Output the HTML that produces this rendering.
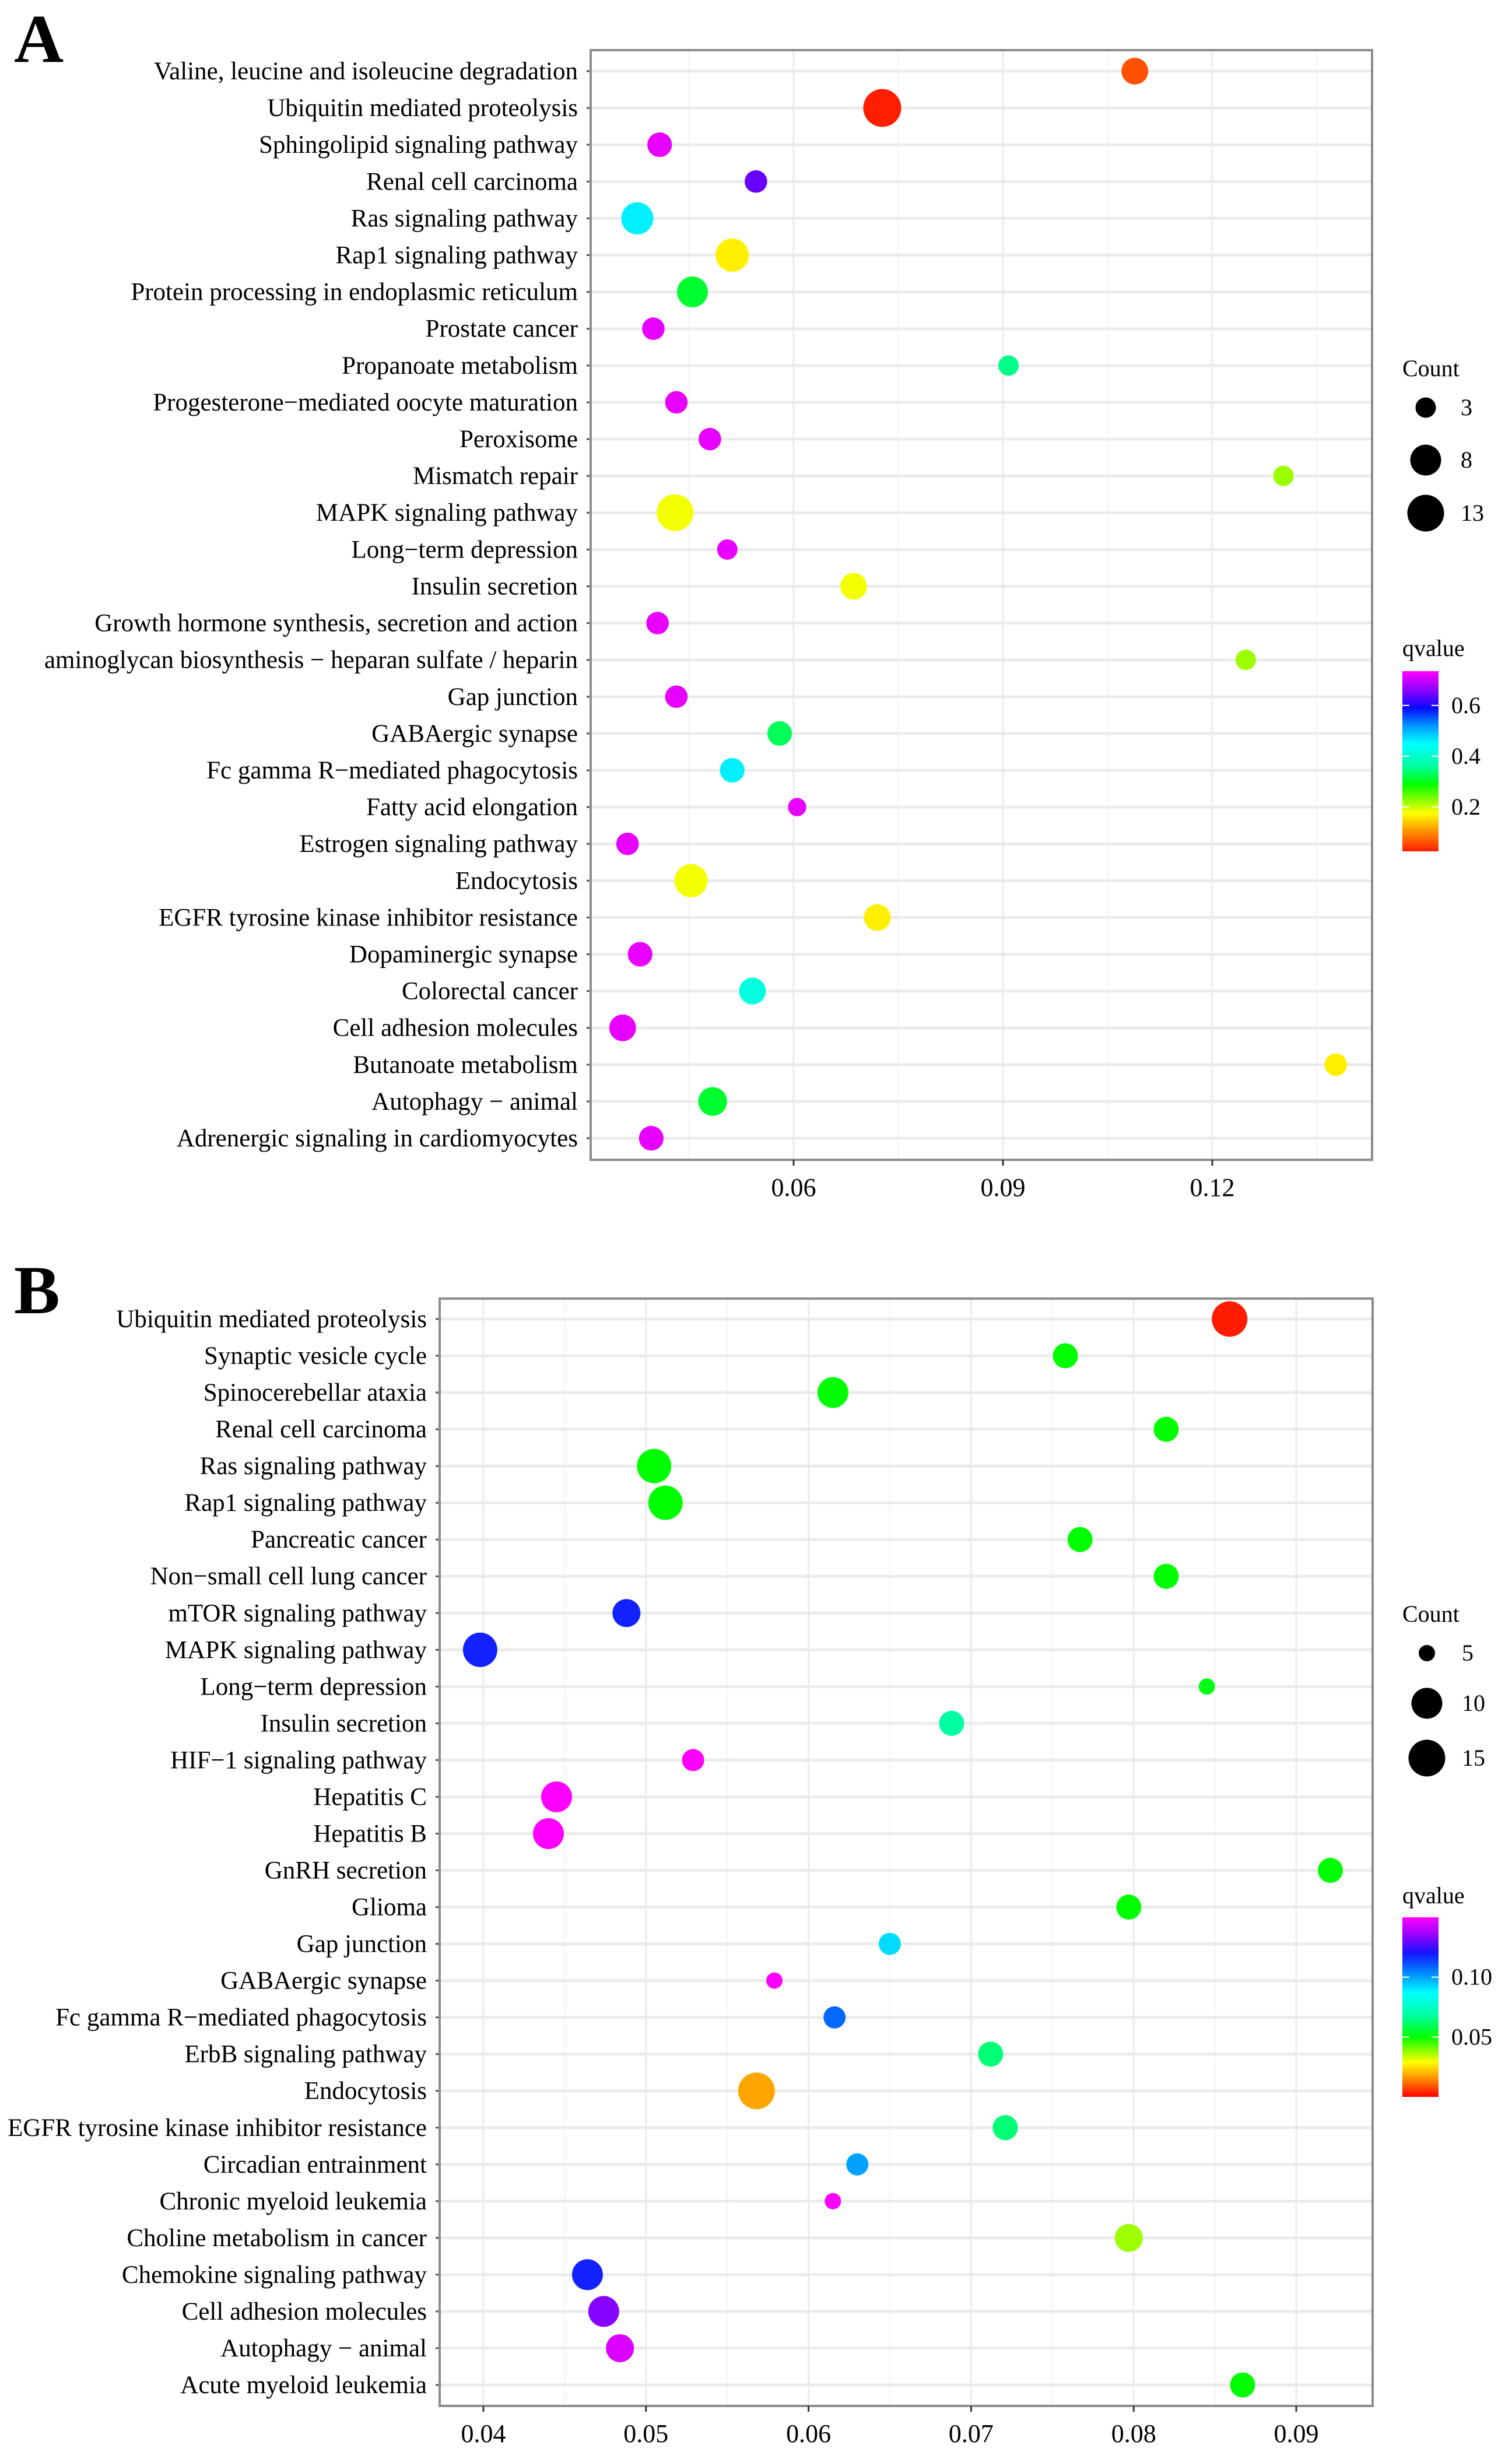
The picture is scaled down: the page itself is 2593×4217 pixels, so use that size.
<!DOCTYPE html>
<html><head><meta charset="utf-8">
<style>
html,body{margin:0;padding:0;background:#fff;}
svg{display:block;}
text{font-family:"Liberation Serif","DejaVu Serif",serif;fill:#000;}
</style></head>
<body>
<svg id="chart" width="2593" height="4217" viewBox="0 0 2593 4217" xmlns="http://www.w3.org/2000/svg">
<rect x="0" y="0" width="2593" height="4217" fill="#fff"/>
</svg>
<script>
// ---- Panel A data ----
const catsA = ["Valine, leucine and isoleucine degradation","Ubiquitin mediated proteolysis","Sphingolipid signaling pathway","Renal cell carcinoma","Ras signaling pathway","Rap1 signaling pathway","Protein processing in endoplasmic reticulum","Prostate cancer","Propanoate metabolism","Progesterone\u2212mediated oocyte maturation","Peroxisome","Mismatch repair","MAPK signaling pathway","Long\u2212term depression","Insulin secretion","Growth hormone synthesis, secretion and action","aminoglycan biosynthesis \u2212 heparan sulfate / heparin","Gap junction","GABAergic synapse","Fc gamma R\u2212mediated phagocytosis","Fatty acid elongation","Estrogen signaling pathway","Endocytosis","EGFR tyrosine kinase inhibitor resistance","Dopaminergic synapse","Colorectal cancer","Cell adhesion molecules","Butanoate metabolism","Autophagy \u2212 animal","Adrenergic signaling in cardiomyocytes"];
const ratioA = [0.1089,0.0727,0.0408,0.0546,0.0376,0.0512,0.0455,0.0399,0.0908,0.0432,0.0480,0.1302,0.0430,0.0505,0.0686,0.0405,0.1248,0.0432,0.0580,0.0512,0.0605,0.0362,0.0453,0.0720,0.0380,0.0541,0.0355,0.1377,0.0484,0.0396];
const countA = [6,14,5,4,9,10,8,4,3,4,4,3,13,3,6,4,3,4,5,5,2,4,10,6,5,6,6,4,7,5];
const qA = [0.06,0.025,0.72,0.64,0.46,0.165,0.31,0.72,0.35,0.72,0.72,0.22,0.18,0.72,0.18,0.72,0.22,0.72,0.33,0.46,0.72,0.72,0.18,0.165,0.72,0.42,0.72,0.165,0.31,0.72];
const ticksA = [0.06,0.09,0.12];
const tickLabelsA = ["0.06","0.09","0.12"];
const sizeBreaksA = [3,8,13];
const qBreaksA = [0.2,0.4,0.6];
const qLabelsA = ["0.2","0.4","0.6"];

// ---- Panel B data ----
const catsB = ["Ubiquitin mediated proteolysis","Synaptic vesicle cycle","Spinocerebellar ataxia","Renal cell carcinoma","Ras signaling pathway","Rap1 signaling pathway","Pancreatic cancer","Non\u2212small cell lung cancer","mTOR signaling pathway","MAPK signaling pathway","Long\u2212term depression","Insulin secretion","HIF\u22121 signaling pathway","Hepatitis C","Hepatitis B","GnRH secretion","Glioma","Gap junction","GABAergic synapse","Fc gamma R\u2212mediated phagocytosis","ErbB signaling pathway","Endocytosis","EGFR tyrosine kinase inhibitor resistance","Circadian entrainment","Chronic myeloid leukemia","Choline metabolism in cancer","Chemokine signaling pathway","Cell adhesion molecules","Autophagy \u2212 animal","Acute myeloid leukemia"];
const ratioB = [0.0859,0.0758,0.0615,0.0820,0.0505,0.0512,0.0767,0.0820,0.0488,0.0398,0.0845,0.0688,0.0529,0.0445,0.0440,0.0921,0.0797,0.0650,0.0579,0.0616,0.0712,0.0568,0.0721,0.0630,0.0615,0.0797,0.0464,0.0474,0.0484,0.0867];
const countB = [14,8,10,8,13,13,8,8,9,13,5,8,7,10,10,8,8,7,5,7,8,15,8,7,5,9,10,10,9,8];
const qB = [0.003,0.05,0.05,0.05,0.05,0.05,0.05,0.05,0.118,0.118,0.052,0.068,0.15,0.15,0.15,0.05,0.05,0.092,0.15,0.108,0.063,0.018,0.063,0.1,0.15,0.037,0.118,0.133,0.145,0.05];
const ticksB = [0.04,0.05,0.06,0.07,0.08,0.09];
const tickLabelsB = ["0.04","0.05","0.06","0.07","0.08","0.09"];
const sizeBreaksB = [5,10,15];
const qBreaksB = [0.05,0.10];
const qLabelsB = ["0.05","0.10"];

const NS = "http://www.w3.org/2000/svg";
const svg = document.getElementById('chart');
function mk(tag, attrs, parent){
  const e = document.createElementNS(NS, tag);
  for (const k in attrs) e.setAttribute(k, attrs[k]);
  (parent||svg).appendChild(e);
  return e;
}
function lerp(a,b,t){return a+(b-a)*t;}
function interp(xs, ys, v){
  if (v<=xs[0]) return ys[0]+(v-xs[0])*(ys[1]-ys[0])/(xs[1]-xs[0]);
  for(let i=0;i<xs.length-1;i++){ if(v<=xs[i+1]) return lerp(ys[i],ys[i+1],(v-xs[i])/(xs[i+1]-xs[i])); }
  const n=xs.length; return ys[n-1]+(v-xs[n-1])*(ys[n-1]-ys[n-2])/(xs[n-1]-xs[n-2]);
}
function colorFn(stops){
  return function(q){
    if(q<=stops[0][0]) return 'rgb('+stops[0][1].join(',')+')';
    for(let i=0;i<stops.length-1;i++){
      if(q<=stops[i+1][0]){
        const t=(q-stops[i][0])/(stops[i+1][0]-stops[i][0]);
        const c=stops[i][1].map((v,j)=>Math.round(lerp(v,stops[i+1][1][j],t)));
        return 'rgb('+c.join(',')+')';
      }
    }
    return 'rgb('+stops[stops.length-1][1].join(',')+')';
  };
}

function panel(cfg){
  const g = mk('g',{});
  
  
  const {L,R,T,B,x0,x1,xv0,xv1,y0,y1} = cfg;
  const xs = v => x0 + (v-xv0)/(xv1-xv0)*(x1-x0);
  const n = cfg.cats.length;
  const ys = i => y0 + i*(y1-y0)/(n-1);
  const bg = mk('rect',{x:L,y:T,width:R-L,height:B-T,fill:'#fff'},g);
  
  
  for(let i=0;i<cfg.ticks.length+1;i++){
    const step = cfg.ticks[1]-cfg.ticks[0];
    const v = cfg.ticks[0]-step/2 + i*step;
    const px = xs(v);
    if(px>L && px<R){
      const l=mk('line',{x1:px,x2:px,y1:T,y2:B,stroke:'#f2f2f2','stroke-width':2},g);
      
      
    }
  }
  cfg.ticks.forEach(v=>{
    const l=mk('line',{x1:xs(v),x2:xs(v),y1:T,y2:B,stroke:'#ebebeb','stroke-width':3},g);
    
    
  });
  cfg.cats.forEach((c,i)=>{
    const l=mk('line',{x1:L,x2:R,y1:ys(i),y2:ys(i),stroke:'#ebebeb','stroke-width':5},g);
    
    
    const tk=mk('line',{x1:L-7,x2:L,y1:ys(i),y2:ys(i),stroke:'#555','stroke-width':3},g);
    
    
    const t=mk('text',{x:L-22,y:ys(i)+14,'text-anchor':'end','font-size':43},g);
    t.textContent=c;
    
    
  });
  cfg.cats.forEach((c,i)=>{
    const d = interp(cfg.sizeBreaks, cfg.sizeDiam, cfg.counts[i]);
    const dot=mk('circle',{cx:xs(cfg.ratio[i]),cy:ys(i),r:d/2,fill:cfg.col(cfg.q[i])},g);
    
    
  });
  const br=mk('rect',{x:L,y:T,width:R-L,height:B-T,fill:'none',stroke:'#8c8c8c','stroke-width':4},g);
  
  
  cfg.ticks.forEach((v,i)=>{
    const tk=mk('line',{x1:xs(v),x2:xs(v),y1:B,y2:B+10,stroke:'#333','stroke-width':3},g);
    
    
    const t=mk('text',{x:xs(v),y:B+62,'text-anchor':'middle','font-size':44},g);
    t.textContent=cfg.tickLabels[i];
    
    
  });
  const pl=mk('text',{x:cfg.letterX,y:cfg.letterY,'font-size':118,'font-weight':'bold'},g);
  pl.textContent=cfg.letter;
  
  
  const lg=cfg.leg;
  const ct=mk('text',{x:lg.x,y:lg.countY,'font-size':40},g);
  ct.textContent='Count';
  
  
  cfg.sizeBreaks.forEach((s,i)=>{
    const c=mk('circle',{cx:lg.dotX,cy:lg.dotY[i],r:cfg.sizeDiam[i]/2,fill:'#000'},g);
    
    
    const t=mk('text',{x:lg.labX,y:lg.dotY[i]+13,'font-size':40},g);
    t.textContent=String(s);
    
    
  });
  const qt=mk('text',{x:lg.x,y:lg.qY,'font-size':40},g);
  qt.textContent='qvalue';
  
  
  const gid='grad'+cfg.letter;
  const defs=mk('defs',{},g);
  const lgd=mk('linearGradient',{id:gid,x1:0,y1:1,x2:0,y2:0},defs);
  cfg.stops.forEach(s=>{
    const off=(s[0]-lg.qMin)/(lg.qMax-lg.qMin);
    mk('stop',{offset:Math.max(0,Math.min(1,off)),'stop-color':'rgb('+s[1].join(',')+')'},lgd);
  });
  const barH=lg.barB-lg.barT;
  const qy=q=>lg.barB-(q-lg.qMin)/(lg.qMax-lg.qMin)*barH;
  const bar=mk('rect',{x:lg.x,y:lg.barT,width:62,height:barH,fill:'url(#'+gid+')'},g);
  
  
  cfg.qBreaks.forEach((q,i)=>{
    mk('line',{x1:lg.x,x2:lg.x+12,y1:qy(q),y2:qy(q),stroke:'#fff','stroke-width':2},g);
    mk('line',{x1:lg.x+50,x2:lg.x+62,y1:qy(q),y2:qy(q),stroke:'#fff','stroke-width':2},g);
    const t=mk('text',{x:lg.x+84,y:qy(q)+13,'font-size':40},g);
    t.textContent=cfg.qLabels[i];
    
    
  });
}

const stopsA=[[0.025,[255,30,0]],[0.1,[255,140,0]],[0.175,[255,255,0]],[0.29,[0,255,0]],[0.36,[0,255,160]],[0.45,[0,255,255]],[0.52,[0,150,255]],[0.59,[10,10,255]],[0.66,[140,0,255]],[0.735,[255,0,255]]];
const stopsB=[[0.0,[255,0,0]],[0.015,[255,140,0]],[0.029,[255,255,0]],[0.05,[0,255,0]],[0.068,[0,255,160]],[0.087,[0,255,255]],[0.103,[0,140,255]],[0.12,[20,20,255]],[0.135,[150,0,255]],[0.15,[255,0,255]]];

panel({name:'panel-a',letter:'A',letterX:24,letterY:106,L:1013,R:2353,T:86,B:1989,
  x0:1361,x1:2079,xv0:0.06,xv1:0.12,y0:122,y1:1952,
  cats:catsA,ratio:ratioA,counts:countA,q:qA,col:colorFn(stopsA),stops:stopsA,
  ticks:ticksA,tickLabels:tickLabelsA,sizeBreaks:sizeBreaksA,sizeDiam:[35,53,63],
  qBreaks:qBreaksA,qLabels:qLabelsA,
  leg:{x:2405,countY:645,dotX:2445,dotY:[699,789,880],labX:2505,qY:1125,barT:1151,barB:1460,qMin:0.025,qMax:0.735}});

panel({name:'panel-b',letter:'B',letterX:24,letterY:2252,L:754,R:2354,T:2227,B:4126,
  x0:829,x1:2223,xv0:0.04,xv1:0.09,y0:2262,y1:4090,
  cats:catsB,ratio:ratioB,counts:countB,q:qB,col:colorFn(stopsB),stops:stopsB,
  ticks:ticksB,tickLabels:tickLabelsB,sizeBreaks:sizeBreaksB,sizeDiam:[28,53,63],
  qBreaks:qBreaksB,qLabels:qLabelsB,
  leg:{x:2405,countY:2781,dotX:2447,dotY:[2835,2921,3015],labX:2507,qY:3264,barT:3288,barB:3596,qMin:0.0,qMax:0.15}});
</script>
</body></html>
